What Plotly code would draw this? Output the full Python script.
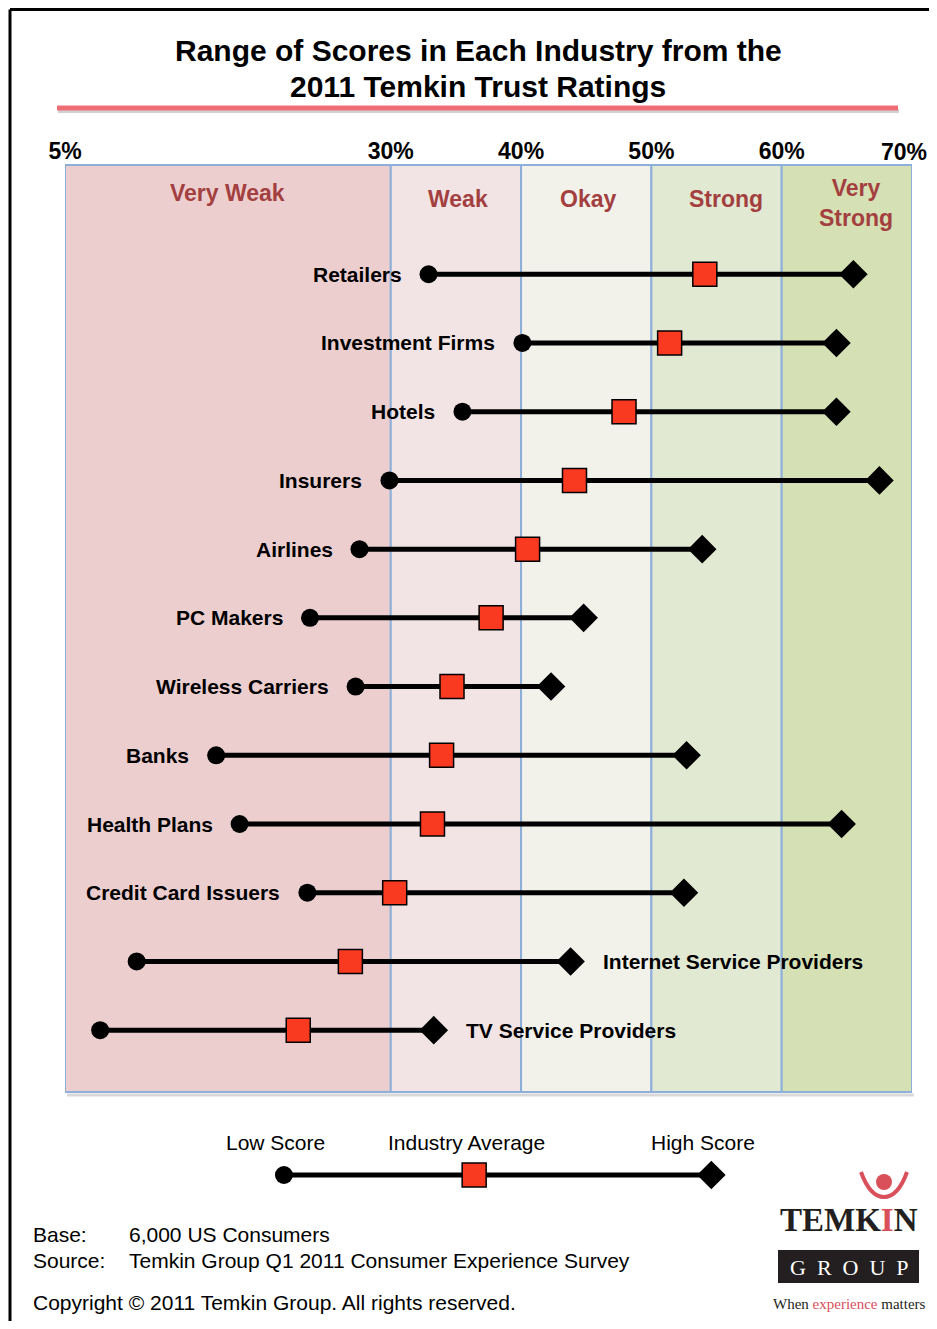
import plotly.graph_objects as go

# ---------------- data ----------------
industries = [
    "Retailers", "Investment Firms", "Hotels", "Insurers", "Airlines",
    "PC Makers", "Wireless Carriers", "Banks", "Health Plans",
    "Credit Card Issuers", "Internet Service Providers", "TV Service Providers",
]
low_score = [32.9, 40.1, 35.5, 29.9, 27.6, 23.8, 27.3, 16.6, 18.4, 23.6, 10.5, 7.7]
avg_score = [54.1, 51.4, 47.9, 44.1, 40.5, 37.7, 34.7, 33.9, 33.2, 30.3, 26.9, 22.9]
high_score = [65.5, 64.2, 64.2, 67.5, 53.9, 44.8, 42.3, 52.7, 64.6, 52.5, 43.8, 33.3]

band_edges = [5, 30, 40, 50, 60, 70]
band_names = ["Very Weak", "Weak", "Okay", "Strong", "Very<br>Strong"]
tick_vals = [5, 30, 40, 50, 60, 70]
tick_text = ["5%", "30%", "40%", "50%", "60%", "70%"]
labels_right = ["Internet Service Providers", "TV Service Providers"]

legend_labels = ["Low Score", "Industry Average", "High Score"]
legend_sample = [21.8, 36.4, 54.6]

# ---------------- styling ----------------
PAGE_OFF = 8                     # browser body margin
W, H = 937 - 2 * PAGE_OFF, 1329 - 2 * PAGE_OFF
FONT = "Liberation Sans, Arial, sans-serif"
band_colors = ["#ECCECF", "#F2E4E4", "#F2F1EA", "#E2E9D3", "#D5E0B4"]
band_label_shift = [0, 2, 2, 9, 9]
border_col = "#8DAFDA"
label_red = "#A33F3F"
sq_red = "#FA3A20"
logo_red = "#D9505A"


def px(x):
    return (x - PAGE_OFF) / W


def py(y):
    return 1 - (y - PAGE_OFF) / H


fig = go.Figure()

# connecting lines
lx, ly = [], []
for name, lo, hi in zip(industries, low_score, high_score):
    lx += [lo, hi, None]
    ly += [name, name, None]
fig.add_trace(go.Scatter(x=lx, y=ly, mode="lines", line=dict(color="black", width=5),
                         hoverinfo="skip", showlegend=False))
fig.add_trace(go.Scatter(x=low_score, y=industries, mode="markers",
                         marker=dict(symbol="circle", size=18, color="black"),
                         showlegend=False, cliponaxis=False))
fig.add_trace(go.Scatter(x=high_score, y=industries, mode="markers",
                         marker=dict(symbol="diamond", size=22, color="black"),
                         showlegend=False, cliponaxis=False))
fig.add_trace(go.Scatter(x=avg_score, y=industries, mode="markers",
                         marker=dict(symbol="square", size=24, color=sq_red,
                                     line=dict(color="black", width=1.5)),
                         showlegend=False, cliponaxis=False))

# legend sample (own axes)
fig.add_trace(go.Scatter(x=[legend_sample[0], legend_sample[-1]], y=[0, 0], mode="lines",
                         line=dict(color="black", width=5), xaxis="x2", yaxis="y2",
                         hoverinfo="skip", showlegend=False))
fig.add_trace(go.Scatter(x=[legend_sample[0]], y=[0], mode="markers", xaxis="x2", yaxis="y2",
                         marker=dict(symbol="circle", size=18, color="black"),
                         showlegend=False, cliponaxis=False))
fig.add_trace(go.Scatter(x=[legend_sample[2]], y=[0], mode="markers", xaxis="x2", yaxis="y2",
                         marker=dict(symbol="diamond", size=22, color="black"),
                         showlegend=False, cliponaxis=False))
fig.add_trace(go.Scatter(x=[legend_sample[1]], y=[0], mode="markers", xaxis="x2", yaxis="y2",
                         marker=dict(symbol="square", size=24, color=sq_red,
                                     line=dict(color="black", width=1.5)),
                         showlegend=False, cliponaxis=False))

shapes = []
# bands
for i in range(len(band_names)):
    shapes.append(dict(type="rect", xref="x", yref="y domain", x0=band_edges[i], x1=band_edges[i + 1],
                       y0=0, y1=1, fillcolor=band_colors[i], line=dict(color=border_col, width=2),
                       layer="below"))
# plot shadow
shapes.append(dict(type="line", xref="paper", yref="paper", x0=px(67), x1=px(914), y0=py(1095), y1=py(1095),
                   line=dict(color="rgba(0,0,0,0.15)", width=3), layer="below"))
# title underline
shapes.append(dict(type="line", xref="paper", yref="paper", x0=px(58), x1=px(899), y0=py(111), y1=py(111),
                   line=dict(color="rgba(0,0,0,0.18)", width=4)))
shapes.append(dict(type="line", xref="paper", yref="paper", x0=px(57), x1=px(898), y0=py(108), y1=py(108),
                   line=dict(color="#EF6E76", width=5)))
# frame
shapes.append(dict(type="line", xref="paper", yref="paper", x0=px(10), x1=px(10), y0=py(9.5), y1=-0.02,
                   line=dict(color="black", width=3)))
shapes.append(dict(type="line", xref="paper", yref="paper", x0=px(10), x1=1.02, y0=py(9.5), y1=py(9.5),
                   line=dict(color="black", width=3)))
# logo: GROUP box and figure
shapes.append(dict(type="rect", xref="paper", yref="paper", x0=px(778), x1=px(919), y0=py(1283), y1=py(1250),
                   fillcolor="#231F20", line=dict(width=0)))
shapes.append(dict(type="circle", xref="paper", yref="paper", x0=px(876), x1=px(892), y0=py(1190), y1=py(1174),
                   fillcolor=logo_red, line=dict(width=0)))
shapes.append(dict(type="path", xref="paper", yref="paper",
                   path=f"M {px(861)},{py(1172)} Q {px(870)},{py(1197)} {px(884)},{py(1197)} "
                        f"Q {px(898)},{py(1197)} {px(907)},{py(1172)}",
                   line=dict(color=logo_red, width=4)))

annotations = []
# title
annotations.append(dict(x=px(478), y=py(50), xref="paper", yref="paper", showarrow=False,
                        text="Range of Scores in Each Industry from the", xanchor="center", yanchor="middle",
                        font=dict(family=FONT, size=30, color="black", weight="bold")))
annotations.append(dict(x=px(478), y=py(86), xref="paper", yref="paper", showarrow=False,
                        text="2011 Temkin Trust Ratings", xanchor="center", yanchor="middle",
                        font=dict(family=FONT, size=30, color="black", weight="bold")))
# last axis tick label kept inside the page
annotations.append(dict(x=tick_vals[-1], xref="x", y=py(152), yref="paper", showarrow=False,
                        text=tick_text[-1], xanchor="right", yanchor="middle", xshift=17,
                        font=dict(family=FONT, size=23, color="black", weight="bold")))
# band labels
for i, nm in enumerate(band_names):
    cy = 193 if i == 0 else (203 if "<br>" in nm else 199)
    annotations.append(dict(x=(band_edges[i] + band_edges[i + 1]) / 2, xref="x", y=py(cy), yref="paper",
                            text=nm, showarrow=False, yanchor="middle", xshift=band_label_shift[i],
                            font=dict(family=FONT, size=23, color=label_red, weight="bold")))
# industry labels
for name, lo, hi in zip(industries, low_score, high_score):
    if name in labels_right:
        annotations.append(dict(x=hi, y=name, xref="x", yref="y", text=name, showarrow=False,
                                xanchor="left", xshift=30,
                                font=dict(family=FONT, size=21, color="black", weight="bold")))
    else:
        annotations.append(dict(x=lo, y=name, xref="x", yref="y", text=name, showarrow=False,
                                xanchor="right", xshift=-25,
                                font=dict(family=FONT, size=21, color="black", weight="bold")))
# legend labels
for lab, xv in zip(legend_labels, legend_sample):
    annotations.append(dict(x=xv, xref="x", y=py(1142), yref="paper", text=lab, showarrow=False,
                            xshift=-8, yanchor="middle", font=dict(family=FONT, size=21, color="black")))
# footer
foot = [("Base:", "6,000 US Consumers", 1234), ("Source:", "Temkin Group Q1 2011 Consumer Experience Survey", 1260)]
for a, b, yy in foot:
    annotations.append(dict(x=px(31), y=py(yy), xref="paper", yref="paper", text=a, showarrow=False,
                            xanchor="left", yanchor="middle", font=dict(family=FONT, size=21, color="black")))
    annotations.append(dict(x=px(127), y=py(yy), xref="paper", yref="paper", text=b, showarrow=False,
                            xanchor="left", yanchor="middle", font=dict(family=FONT, size=21, color="black")))
annotations.append(dict(x=px(31), y=py(1302), xref="paper", yref="paper",
                        text="Copyright © 2011 Temkin Group. All rights reserved.", showarrow=False,
                        xanchor="left", yanchor="middle", font=dict(family=FONT, size=21, color="black")))
# logo text
annotations.append(dict(x=px(849), y=py(1220), xref="paper", yref="paper",
                        text=f"TEMK<span style='color:{logo_red}'>I</span>N", showarrow=False,
                        xanchor="center", yanchor="middle",
                        font=dict(family="Liberation Serif, serif", size=33, color="#231F20", weight="bold")))
annotations.append(dict(x=px(849), y=py(1267), xref="paper", yref="paper",
                        text="G  R  O  U  P", showarrow=False, xanchor="center", yanchor="middle",
                        font=dict(family="Liberation Serif, serif", size=22, color="white")))
annotations.append(dict(x=px(849), y=py(1304), xref="paper", yref="paper",
                        text=f"When <span style='color:{logo_red}'>experience</span> matters", showarrow=False,
                        xanchor="center", yanchor="middle",
                        font=dict(family="Liberation Serif, serif", size=15, color="#231F20")))

fig.update_layout(
    width=W, height=H,
    margin=dict(l=0, r=0, t=0, b=0),
    paper_bgcolor="white", plot_bgcolor="white",
    xaxis=dict(domain=[px(65), px(912)], range=[5, 70], side="top",
               tickvals=tick_vals[:-1], ticktext=tick_text[:-1],
               showgrid=False, zeroline=False, showline=False, ticks="", automargin=False,
               tickfont=dict(family=FONT, size=23, color="black", weight="bold")),
    yaxis=dict(domain=[py(1092), py(165)], type="category", categoryorder="array", categoryarray=industries,
               range=[11.9, -1.59], showgrid=False, zeroline=False, showticklabels=False, ticks="",
               automargin=False),
    xaxis2=dict(domain=[px(65), px(912)], range=[5, 70], anchor="y2", visible=False),
    yaxis2=dict(domain=[py(1195), py(1155)], range=[-1, 1], anchor="x2", visible=False),
    shapes=shapes, annotations=annotations, showlegend=False,
)

fig.write_html("out.html")
